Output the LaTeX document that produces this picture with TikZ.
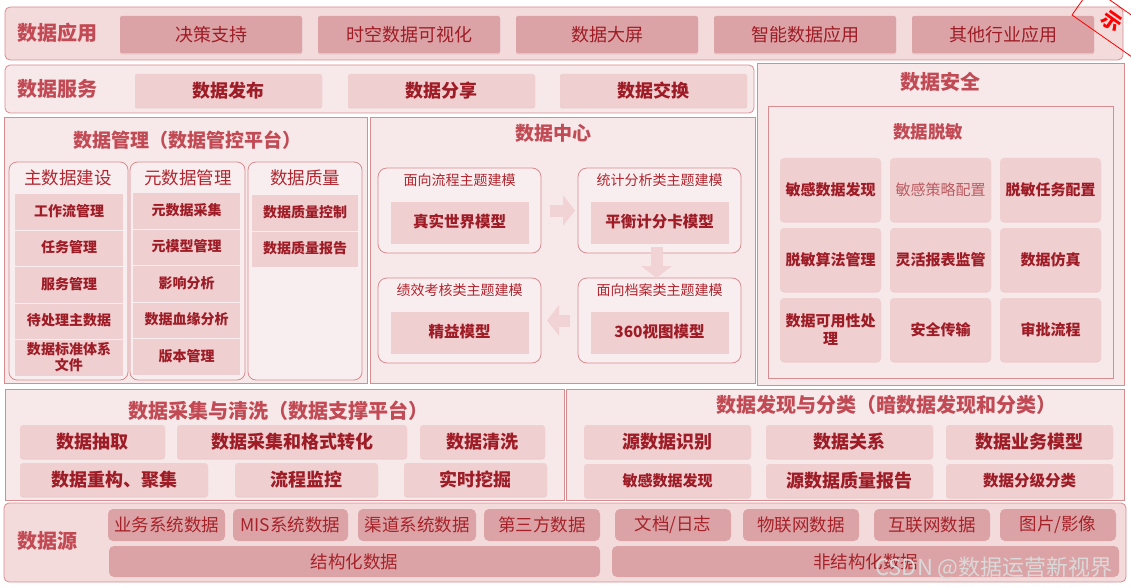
\documentclass[tikz,border=0pt]{standalone}
\usepackage{fontspec}
\setmainfont{Noto Sans CJK SC}
\usepackage{xcolor}
\usetikzlibrary{arrows.meta,positioning,shadows}

\definecolor{pborder}{RGB}{217,140,144}
\definecolor{pfill}{RGB}{247,232,233}
\definecolor{colfill}{RGB}{249,238,239}
\definecolor{appfill}{RGB}{243,218,219}
\definecolor{darkitem}{RGB}{220,163,166}
\definecolor{liteitem}{RGB}{240,207,209}
\definecolor{titlered}{RGB}{194,74,84}
\definecolor{itemred}{RGB}{158,28,38}
\definecolor{subred}{RGB}{176,38,48}
\definecolor{paletext}{RGB}{186,92,98}
\definecolor{srcred}{RGB}{166,34,42}
\definecolor{arrowpink}{RGB}{242,211,213}

\newcommand{\fsz}[1]{\fontsize{#1}{#1}\selectfont}

\begin{document}
\begin{tikzpicture}[
  x=1pt, y=-1pt,
  every node/.style={inner sep=0pt, outer sep=0pt},
  softshadow/.style={drop shadow={shadow xshift=0pt, shadow yshift=-1.5pt, opacity=0.3, fill=pborder}},
  panel/.style={draw=pborder, fill=pfill, line width=0.8pt, rounded corners=5pt, anchor=north west},
  sqpanel/.style={panel, rounded corners=0pt},
  colbox/.style={draw=pborder, fill=colfill, line width=0.8pt, rounded corners=8pt, anchor=north west,
                 minimum height=218pt},
  hdr/.style={font=\fsz{20}\bfseries, text=titlered},
  subhdr/.style={font=\fsz{17.5}, text=subred},
  appitem/.style={fill=darkitem, rounded corners=2pt, minimum width=182pt, minimum height=37pt,
                  font=\fsz{18}, text=itemred, softshadow},
  srvitem/.style={fill=liteitem, rounded corners=2pt, minimum width=187pt, minimum height=33pt,
                  font=\fsz{18}\bfseries, text=itemred, softshadow},
  mgitem/.style={fill=liteitem, minimum height=34pt, align=center,
                 font=\fsz{14}\bfseries, text=itemred, softshadow},
  dcbox/.style={colbox, rounded corners=9pt, minimum width=163pt, minimum height=85pt},
  dclabel/.style={font=\fsz{14}, text=subred},
  dcitem/.style={fill=liteitem, minimum width=138pt, minimum height=40pt,
                 font=\fsz{15.5}\bfseries, text=itemred, softshadow},
  blockarr/.style={draw=arrowpink, line width=12pt, -{Triangle[length=12pt, width=30pt]}},
  secitem/.style={fill=liteitem, rounded corners=4pt, minimum width=101pt, minimum height=63pt,
                  align=center, font=\fsz{15}\bfseries, text=itemred, softshadow},
  colitem/.style={fill=liteitem, rounded corners=3pt, minimum height=33pt,
                  font=\fsz{18}\bfseries, text=itemred, softshadow},
  finditem/.style={colitem, minimum width=167pt},
  srcitem/.style={fill=darkitem, rounded corners=5pt, minimum height=32pt,
                  font=\fsz{17.5}, text=srcred},
]
  \useasboundingbox (0,0) rectangle (1131,588);

  % 数据应用
  \node[panel, fill=appfill, minimum width=1118pt, minimum height=53pt] (apppanel) at (5,7) {};
  \node[hdr] (applbl) at (57,33) {数据应用};
  \node[appitem, anchor=north west] (app1) at (120,16) {决策支持};
  \node[appitem, right=16pt of app1] (app2) {时空数据可视化};
  \node[appitem, right=16pt of app2] (app3) {数据大屏};
  \node[appitem, right=16pt of app3] (app4) {智能数据应用};
  \node[appitem, right=16pt of app4] (app5) {其他行业应用};

  % 数据服务
  \node[panel, minimum width=749pt, minimum height=48pt] (srvpanel) at (5,65) {};
  \node[hdr] (srvlbl) at (57,89) {数据服务};
  \node[srvitem, anchor=north west] (srv1) at (135,74) {数据发布};
  \node[srvitem, right=26pt of srv1] (srv2) {数据分享};
  \node[srvitem, right=25pt of srv2] (srv3) {数据交换};

  % 数据管理
  \node[sqpanel, minimum width=363pt, minimum height=266pt] (mgpanel) at (4,117) {};
  \node[hdr, font=\fsz{19}\bfseries] (mglbl) at (187,140) {数据管理（数据管控平台）};
  \node[colbox, minimum width=119pt] (mcol1) at (9,162) {};
  \node[colbox, minimum width=115pt] (mcol2) at (130,162) {};
  \node[colbox, minimum width=114pt] (mcol3) at (248,162) {};
  \node[subhdr] (mcol1lbl) at (68,178) {主数据建设};
  \node[subhdr] (mcol2lbl) at (188,178) {元数据管理};
  \node[subhdr] (mcol3lbl) at (305,178) {数据质量};

  \node[mgitem, minimum width=108pt, anchor=north west] (md1) at (15,194) {工作流管理};
  \node[mgitem, minimum width=108pt, below=2.5pt of md1] (md2) {任务管理};
  \node[mgitem, minimum width=108pt, below=2.5pt of md2] (md3) {服务管理};
  \node[mgitem, minimum width=108pt, below=2.5pt of md3] (md4) {待处理主数据};
  \node[mgitem, minimum width=108pt, below=2.5pt of md4] (md5) {数据标准体系\\[2pt]文件};

  \node[mgitem, minimum width=107pt, anchor=north west] (meta1) at (133,193) {元数据采集};
  \node[mgitem, minimum width=107pt, below=2.5pt of meta1] (meta2) {元模型管理};
  \node[mgitem, minimum width=107pt, below=2.5pt of meta2] (meta3) {影响分析};
  \node[mgitem, minimum width=107pt, below=2.5pt of meta3] (meta4) {数据血缘分析};
  \node[mgitem, minimum width=107pt, below=2.5pt of meta4] (meta5) {版本管理};

  \node[mgitem, minimum width=106pt, anchor=north west] (dq1) at (252,195) {数据质量控制};
  \node[mgitem, minimum width=106pt, below=2.5pt of dq1] (dq2) {数据质量报告};

  % 数据中心
  \node[sqpanel, minimum width=385pt, minimum height=266pt] (dcpanel) at (370,117) {};
  \node[hdr, font=\fsz{19}\bfseries] (dclbl) at (553,133) {数据中心};
  \node[dcbox] (flow) at (378,168) {};
  \node[dcbox] (stat) at (578,168) {};
  \node[dcbox] (perf) at (378,278) {};
  \node[dcbox] (arch) at (578,278) {};
  \node[dclabel] (flowlbl) at ([yshift=-12pt]flow.north) {面向流程主题建模};
  \node[dclabel] (statlbl) at ([yshift=-12pt]stat.north) {统计分析类主题建模};
  \node[dclabel] (perflbl) at ([yshift=-12pt]perf.north) {绩效考核类主题建模};
  \node[dclabel] (archlbl) at ([yshift=-12pt]arch.north) {面向档案类主题建模};
  \node[dcitem] (flowm) at ([yshift=-54pt]flow.north) {真实世界模型};
  \node[dcitem] (statm) at ([yshift=-54pt]stat.north) {平衡计分卡模型};
  \node[dcitem] (perfm) at ([yshift=-54pt]perf.north) {精益模型};
  \node[dcitem] (archm) at ([yshift=-54pt]arch.north) {360视图模型};
  \draw[blockarr, shorten <=9pt, shorten >=3pt] (flow.east) -- (stat.west);
  \draw[blockarr, shorten <=-6pt] ([xshift=-3pt]stat.south) -- ([xshift=-3pt]arch.north);
  \draw[blockarr, shorten <=8pt, shorten >=6pt] (arch.west) -- (perf.east);

  % 数据安全
  \node[sqpanel, minimum width=367pt, minimum height=322pt] (secpanel) at (757,63) {};
  \node[hdr] (seclbl) at (940,82) {数据安全};
  \node[sqpanel, line width=0.6pt, minimum width=345pt, minimum height=272pt] (maskbox) at (768,106) {};
  \node[hdr, font=\fsz{17.5}\bfseries] (masklbl) at (928,132) {数据脱敏};
  \node[secitem, anchor=north west] (sec1) at (780,158) {敏感数据发现};
  \node[secitem, right=9pt of sec1, font=\fsz{15}, text=paletext] (sec2) {敏感策略配置};
  \node[secitem, right=9pt of sec2] (sec3) {脱敏任务配置};
  \node[secitem, below=7pt of sec1] (sec4) {脱敏算法管理};
  \node[secitem, right=9pt of sec4] (sec5) {灵活报表监管};
  \node[secitem, right=9pt of sec5] (sec6) {数据仿真};
  \node[secitem, below=7pt of sec4] (sec7) {数据可用性处\\[3pt]理};
  \node[secitem, right=9pt of sec7] (sec8) {安全传输};
  \node[secitem, right=9pt of sec8] (sec9) {审批流程};

  % 数据采集与清洗
  \node[sqpanel, minimum width=559pt, minimum height=111pt] (colpanel) at (5,389) {};
  \node[hdr] (collbl) at (278,411) {数据采集与清洗（数据支撑平台）};
  \node[colitem, minimum width=145pt, anchor=north west] (col1) at (20,425) {数据抽取};
  \node[colitem, minimum width=230pt, anchor=north west] (col2) at (177,425) {数据采集和格式转化};
  \node[colitem, minimum width=125pt, anchor=north west] (col3) at (420,425) {数据清洗};
  \node[colitem, minimum width=188pt, anchor=north west] (col4) at (20,463) {数据重构、聚集};
  \node[colitem, minimum width=143pt, anchor=north west] (col5) at (235,463) {流程监控};
  \node[colitem, minimum width=143pt, anchor=north west] (col6) at (404,463) {实时挖掘};

  % 数据发现与分类
  \node[sqpanel, minimum width=558pt, minimum height=111pt] (findpanel) at (566,389) {};
  \node[hdr] (findlbl) at (886,405) {数据发现与分类（暗数据发现和分类）};
  \node[finditem, anchor=north west] (find1) at (584,425) {源数据识别};
  \node[finditem, right=15pt of find1] (find2) {数据关系};
  \node[finditem, right=13pt of find2] (find3) {数据业务模型};
  \node[finditem, below=6pt of find1, font=\fsz{15}\bfseries] (find4) {敏感数据发现};
  \node[finditem, right=15pt of find4] (find5) {源数据质量报告};
  \node[finditem, right=13pt of find5, font=\fsz{15.5}\bfseries] (find6) {数据分级分类};

  % 数据源
  \node[panel, fill=appfill, minimum width=1122pt, minimum height=79pt] (srcpanel) at (4,503) {};
  \node[hdr] (srclbl) at (47,541) {数据源};
  \node[srcitem, minimum width=117pt, anchor=north west] (src1) at (108,509) {业务系统数据};
  \node[srcitem, minimum width=115pt, anchor=north west] (src2) at (233,509) {MIS系统数据};
  \node[srcitem, minimum width=118pt, anchor=north west] (src3) at (358,509) {渠道系统数据};
  \node[srcitem, minimum width=116pt, anchor=north west] (src4) at (484,509) {第三方数据};
  \node[srcitem, minimum width=116pt, anchor=north west] (src5) at (615,509) {文档/日志};
  \node[srcitem, minimum width=116pt, anchor=north west] (src6) at (743,509) {物联网数据};
  \node[srcitem, minimum width=116pt, anchor=north west] (src7) at (874,509) {互联网数据};
  \node[srcitem, minimum width=116pt, anchor=north west] (src8) at (1000,509) {图片/影像};
  \node[srcitem, minimum width=491pt, minimum height=31pt, anchor=north west] (struct) at (109,546) {结构化数据};
  \node[srcitem, minimum width=507pt, minimum height=31pt, anchor=north west] (unstruct) at (612,546) {非结构化数据};

  \node[font=\fsz{22}, text=white!85!black] (wmark) at (994,568) {CSDN @数据运营新视界};

  % corner stamp
  \begin{scope}
    \clip (0,0) rectangle (1131,588);
    \node[draw=red, line width=0.8pt, rotate=-35, minimum width=160pt, minimum height=34pt,
          anchor=south west] (stamp) at (1072,15) {};
    \node[font=\fsz{20}\bfseries, text=red, rotate=-35] (stamptxt) at (1112,22) {示};
  \end{scope}
\end{tikzpicture}
\end{document}
